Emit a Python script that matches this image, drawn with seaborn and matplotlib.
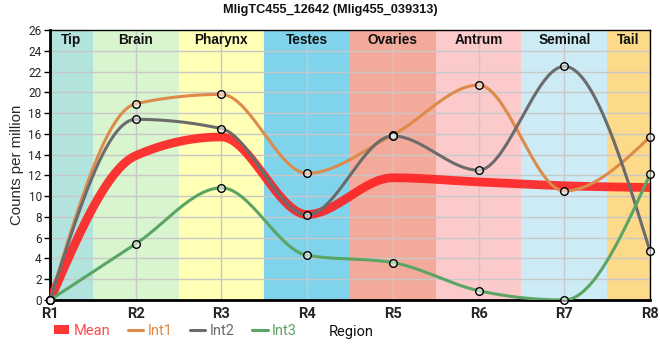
import numpy as np
import pandas as pd
import matplotlib
matplotlib.use("Agg")
import matplotlib.pyplot as plt
import seaborn as sns
from matplotlib.lines import Line2D
from matplotlib.patches import Patch

regions = ["R1", "R2", "R3", "R4", "R5", "R6", "R7", "R8"]
int1 = [0.0, 18.9, 19.8, 12.2, 15.9, 20.7, 10.5, 15.7]
int2 = [0.0, 17.4, 16.5, 8.2, 15.8, 12.5, 22.5, 4.7]
int3 = [0.0, 5.4, 10.8, 4.3, 3.6, 0.9, 0.0, 12.1]
mean = [0.0, 13.9, 15.7, 8.23, 11.77, 11.37, 11.0, 10.83]
tissues = ["Tip", "Brain", "Pharynx", "Testes", "Ovaries", "Antrum", "Seminal", "Tail"]
tissue_colors = ["#b3e3dd", "#d8f5cf", "#ffffb5", "#7fd4ec", "#f4aa9b", "#fdcacb", "#cdebf5", "#fdd98a"]


def monotone_x(x, y, xs):
    # d3.curveMonotoneX style interpolation
    x = np.asarray(x, float); y = np.asarray(y, float)
    n = len(x)
    h = np.diff(x); s = np.diff(y) / h
    m = np.zeros(n)
    for k in range(1, n - 1):
        s0, s1 = s[k - 1], s[k]
        p = (s0 * h[k] + s1 * h[k - 1]) / (h[k - 1] + h[k])
        m[k] = (np.sign(s0) + np.sign(s1)) * min(abs(s0), abs(s1), 0.5 * abs(p))
    m[0] = (3 * s[0] - m[1]) / 2
    m[-1] = (3 * s[-1] - m[-2]) / 2
    idx = np.clip(np.searchsorted(x, xs) - 1, 0, n - 2)
    t = (xs - x[idx]) / h[idx]
    h00 = 2 * t**3 - 3 * t**2 + 1; h10 = t**3 - 2 * t**2 + t
    h01 = -2 * t**3 + 3 * t**2; h11 = t**3 - t**2
    return h00 * y[idx] + h10 * h[idx] * m[idx] + h01 * y[idx + 1] + h11 * h[idx] * m[idx + 1]


sns.set_theme(style="white")
plt.rcParams["font.family"] = ["Liberation Sans", "DejaVu Sans"]
fig = plt.figure(figsize=(6.6, 3.6), dpi=100)
ax = fig.add_axes([50 / 660, 60 / 360, 600 / 660, 270 / 360])

xpos = np.arange(len(regions))
for i, (t, c) in enumerate(zip(tissues, tissue_colors)):
    ax.axvspan(i - 0.5, i + 0.5, color=c, zorder=0, lw=0)
    lx = 0.25 if i == 0 else (6.75 if i == 7 else i)
    ax.text(lx, 0.963, t, transform=ax.get_xaxis_transform(), ha="center", va="center",
            fontsize=9.8, fontweight="bold", color="#111111", zorder=5)

for xv in xpos:
    ax.axvline(xv, color="#c8c8c8", lw=1, zorder=1)
for yv in range(2, 26, 2):
    ax.axhline(yv, color="#c8c8c8", lw=1, zorder=1)

xs = np.linspace(0, 7, 701)
series = [("Mean", mean, "#ff2020", 6.3, 0.9),
          ("Int1", int1, "#dd8a4a", 2.2, 1.0),
          ("Int2", int2, "#6b6b6b", 2.2, 1.0),
          ("Int3", int3, "#5aa564", 2.2, 1.0)]
for name, vals, col, lw, al in series:
    df = pd.DataFrame({"x": xs, "y": monotone_x(xpos, vals, xs)})
    sns.lineplot(data=df, x="x", y="y", ax=ax, color=col, lw=lw, alpha=al,
                 zorder=3, solid_capstyle="butt", estimator=None, sort=False)
for name, vals, col, lw, al in series[1:]:
    dfp = pd.DataFrame({"x": xpos, "y": vals})
    sns.scatterplot(data=dfp, x="x", y="y", ax=ax, s=30, facecolor=(1, 1, 1, 0.55),
                    edgecolor="black", linewidth=1.0, zorder=4, clip_on=False)

ax.set_xlim(0, 7)
ax.set_ylim(0, 26)
ax.set_xticks(xpos)
ax.set_xticklabels(regions, fontsize=10.5, fontweight="bold", family="Roboto")
ax.set_yticks(range(0, 27, 2))
ax.set_yticklabels([str(v) for v in range(0, 27, 2)], fontsize=8.5, family="Roboto")
ax.tick_params(axis="y", length=4, width=1, color="black", pad=2, left=True)
ax.tick_params(axis="x", length=0, pad=5)
ax.set_xlabel("")
ax.set_ylabel("Counts per million", fontsize=10.8, labelpad=3)
for s in ["top", "right"]:
    ax.spines[s].set_color("black"); ax.spines[s].set_linewidth(1)
for s in ["left", "bottom"]:
    ax.spines[s].set_color("black"); ax.spines[s].set_linewidth(2)

fig.suptitle("MligTC455_12642 (Mlig455_039313)", x=0.5, y=0.99, fontsize=9.2,
             fontweight="bold", color="#111111")

handles = [Patch(facecolor="#ff2020", alpha=0.9, edgecolor="none"),
           Line2D([], [], color="#dd8a4a", lw=2.2),
           Line2D([], [], color="#6b6b6b", lw=2.2),
           Line2D([], [], color="#5aa564", lw=2.2)]
leg = fig.legend(handles, ["Mean", "Int1", "Int2", "Int3"], loc="center left",
                 bbox_to_anchor=(54 / 660, 1 - 331 / 360), ncol=4, frameon=False,
                 prop={"family": "Roboto", "size": 10.5},
                 handlelength=1.05, handleheight=0.55, handletextpad=0.3,
                 columnspacing=1.2, borderaxespad=0, borderpad=0)
for txt, c in zip(leg.get_texts(), ["#ff4a4a", "#dd8a4a", "#6b6b6b", "#5aa564"]):
    txt.set_color(c)
fig.text(351 / 660, 1 - 332 / 360, "Region", ha="center", va="center", fontsize=10.5,
         family="Roboto", color="#111111")

fig.savefig("out.png", dpi=100)
